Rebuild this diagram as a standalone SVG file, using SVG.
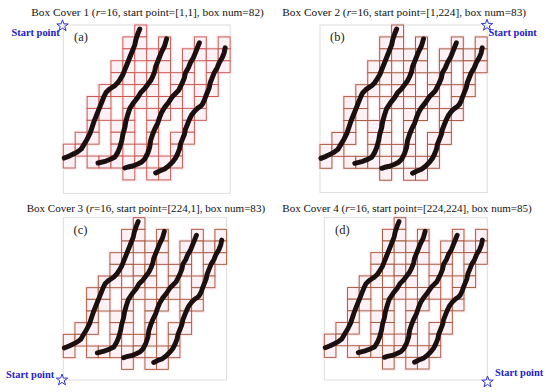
<svg xmlns="http://www.w3.org/2000/svg" xmlns:xlink="http://www.w3.org/1999/xlink" width="550" height="392" viewBox="0 0 550 392">
<style>
.title{font-family:"Liberation Serif","Times New Roman",serif;font-size:11.3px;fill:#111}
.title2{font-family:"Liberation Serif","Times New Roman",serif;font-size:11.05px;fill:#111}
.lab{font-family:"Liberation Serif","Times New Roman",serif;font-size:12.5px;fill:#222}
.sp{font-family:"Liberation Serif","Times New Roman",serif;font-weight:bold;font-size:10.4px;fill:#2323c8}
.star{fill:none;stroke:#3232d2;stroke-width:1}
.frame{fill:#fff;stroke:#d9d9d9;stroke-width:0.9}
.curve{fill:none;stroke:#1c0f0f;stroke-width:5;stroke-linecap:round;stroke-linejoin:round}
</style>
<defs>
<g id="cells">
<rect x="72" y="0" width="12" height="12"/>
<rect x="60" y="12" width="12" height="12"/><rect x="72" y="12" width="12" height="12"/><rect x="96" y="12" width="12" height="12"/><rect x="132" y="12" width="12" height="12"/><rect x="156" y="12" width="12" height="12"/>
<rect x="60" y="24" width="12" height="12"/><rect x="72" y="24" width="12" height="12"/><rect x="84" y="24" width="12" height="12"/><rect x="96" y="24" width="12" height="12"/><rect x="120" y="24" width="12" height="12"/><rect x="132" y="24" width="12" height="12"/><rect x="144" y="24" width="12" height="12"/><rect x="156" y="24" width="12" height="12"/>
<rect x="48" y="36" width="12" height="12"/><rect x="60" y="36" width="12" height="12"/><rect x="84" y="36" width="12" height="12"/><rect x="96" y="36" width="12" height="12"/><rect x="120" y="36" width="12" height="12"/><rect x="144" y="36" width="12" height="12"/><rect x="156" y="36" width="12" height="12"/>
<rect x="48" y="48" width="12" height="12"/><rect x="60" y="48" width="12" height="12"/><rect x="72" y="48" width="12" height="12"/><rect x="84" y="48" width="12" height="12"/><rect x="108" y="48" width="12" height="12"/><rect x="120" y="48" width="12" height="12"/><rect x="144" y="48" width="12" height="12"/>
<rect x="36" y="60" width="12" height="12"/><rect x="48" y="60" width="12" height="12"/><rect x="72" y="60" width="12" height="12"/><rect x="84" y="60" width="12" height="12"/><rect x="108" y="60" width="12" height="12"/><rect x="132" y="60" width="12" height="12"/><rect x="144" y="60" width="12" height="12"/>
<rect x="24" y="72" width="12" height="12"/><rect x="36" y="72" width="12" height="12"/><rect x="60" y="72" width="12" height="12"/><rect x="72" y="72" width="12" height="12"/><rect x="96" y="72" width="12" height="12"/><rect x="108" y="72" width="12" height="12"/><rect x="132" y="72" width="12" height="12"/>
<rect x="24" y="84" width="12" height="12"/><rect x="36" y="84" width="12" height="12"/><rect x="60" y="84" width="12" height="12"/><rect x="84" y="84" width="12" height="12"/><rect x="96" y="84" width="12" height="12"/><rect x="120" y="84" width="12" height="12"/><rect x="132" y="84" width="12" height="12"/>
<rect x="24" y="96" width="12" height="12"/><rect x="48" y="96" width="12" height="12"/><rect x="60" y="96" width="12" height="12"/><rect x="84" y="96" width="12" height="12"/><rect x="120" y="96" width="12" height="12"/>
<rect x="12" y="108" width="12" height="12"/><rect x="24" y="108" width="12" height="12"/><rect x="48" y="108" width="12" height="12"/><rect x="60" y="108" width="12" height="12"/><rect x="84" y="108" width="12" height="12"/><rect x="108" y="108" width="12" height="12"/><rect x="120" y="108" width="12" height="12"/>
<rect x="0" y="120" width="12" height="12"/><rect x="12" y="120" width="12" height="12"/><rect x="48" y="120" width="12" height="12"/><rect x="72" y="120" width="12" height="12"/><rect x="84" y="120" width="12" height="12"/><rect x="108" y="120" width="12" height="12"/>
<rect x="0" y="132" width="12" height="12"/><rect x="24" y="132" width="12" height="12"/><rect x="36" y="132" width="12" height="12"/><rect x="48" y="132" width="12" height="12"/><rect x="60" y="132" width="12" height="12"/><rect x="72" y="132" width="12" height="12"/><rect x="96" y="132" width="12" height="12"/><rect x="108" y="132" width="12" height="12"/>
<rect x="60" y="144" width="12" height="12"/><rect x="84" y="144" width="12" height="12"/><rect x="96" y="144" width="12" height="12"/>
</g>
<g id="curves" class="curve">
<path d="M1,134 L6,132 10,130 14,128 18,125 21,120 24,115 27,109 29,103 31,97 33,92 35,87 37,82 39,77 41,72 43,68 46,65 49,63 52,61 55,58 57,55 60,50 62,45 64,40 66,35 68,30 70,25 72,20 73,15 75,9 77,4"/>
<path d="M35,139 L43,137 48,135 52,133 55,128 57,123 59,116 60,110 62,103 63,97 65,90 67,84 71,78 75,73 78,68 82,64 85,60 88,56 90,52 92,47 93,42 95,37 97,32 99,27 102,21 104,14"/>
<path d="M62,144 L65,143 70,142 75,140 79,138 82,135 85,129 87,123 88,116 90,110 92,105 95,99 97,93 99,88 102,83 106,78 110,72 113,69 116,66 118,62 120,58 122,53 123,48 126,43 128,38 131,33 133,28 135,23 137,18"/>
<path d="M93,149 L97,147 102,145 106,142 110,138 113,134 115,130 117,125 118,120 120,115 122,110 123,105 125,100 127,95 129,91 132,87 135,84 138,82 140,80 142,76 143,73 145,68 147,63 148,58 150,53 152,48 155,43 157,38 160,33 162,28 163,23"/>
</g>
<path id="star" d="M0,-6 L1.41,-1.94 5.71,-1.85 2.28,0.74 3.53,4.85 0,2.4 -3.53,4.85 -2.28,0.74 -5.71,-1.85 -1.41,-1.94 Z"/>
</defs>

<g id="panel-a">
<text class="title" x="31.3" y="15.5">Box Cover 1 (<tspan font-style="italic">r</tspan>=16, start point=[1,1], box num=82)</text>
<g transform="translate(63.3,25) scale(0.993)">
<rect class="frame" x="0" y="0" width="168" height="169.5"/>
<use xlink:href="#cells" fill="none" stroke="#fdeef3" stroke-width="4"/>
<use xlink:href="#cells" fill="#fdf1f5" stroke="#c85a52" stroke-width="1"/>
<use xlink:href="#curves"/>
</g>
<text class="lab" x="74" y="41">(a)</text>
<use xlink:href="#star" class="star" x="62.5" y="25.8"/>
<text class="sp" x="11.5" y="35.7">Start point</text>
</g>

<g id="panel-b">
<text class="title" x="282.3" y="15.5">Box Cover 2 (<tspan font-style="italic">r</tspan>=16, start point=[1,224], box num=83)</text>
<g transform="translate(320,25) scale(0.995)">
<rect class="frame" x="0" y="0" width="168" height="168.5"/>
<use xlink:href="#cells" fill="none" stroke="#fdeef3" stroke-width="4"/>
<use xlink:href="#cells" fill="#fdf1f5" stroke="#a85a3e" stroke-width="1"/>
<use xlink:href="#curves"/>
</g>
<text class="lab" x="330" y="41">(b)</text>
<use xlink:href="#star" class="star" x="487" y="25.3"/>
<text class="sp" x="488.5" y="36">Start point</text>
</g>

<g id="panel-c">
<text class="title2" x="26.7" y="211.5">Box Cover 3 (<tspan font-style="italic">r</tspan>=16, start point=[224,1], box num=83)</text>
<g transform="translate(63.3,217.7) scale(0.972)">
<rect class="frame" x="0" y="0" width="168" height="167"/>
<use xlink:href="#cells" fill="none" stroke="#fdeef3" stroke-width="4"/>
<use xlink:href="#cells" fill="#fdf1f5" stroke="#a85a3e" stroke-width="1"/>
<use xlink:href="#curves"/>
</g>
<text class="lab" x="73.5" y="233.5">(c)</text>
<use xlink:href="#star" class="star" x="62" y="380"/>
<text class="sp" x="6" y="377.5">Start point</text>
</g>

<g id="panel-d">
<text class="title2" x="282.3" y="211.5">Box Cover 4 (<tspan font-style="italic">r</tspan>=16, start point=[224,224], box num=85)</text>
<g transform="translate(324.3,217.7) scale(0.970)">
<rect class="frame" x="0" y="0" width="168" height="167.3"/>
<use xlink:href="#cells" fill="none" stroke="#fdeef3" stroke-width="4"/>
<use xlink:href="#cells" fill="#fdf1f5" stroke="#a85a3e" stroke-width="1"/>
<use xlink:href="#curves"/>
</g>
<text class="lab" x="335" y="233.5">(d)</text>
<use xlink:href="#star" class="star" x="487.5" y="382"/>
<text class="sp" x="495" y="375.5">Start point</text>
</g>
</svg>
